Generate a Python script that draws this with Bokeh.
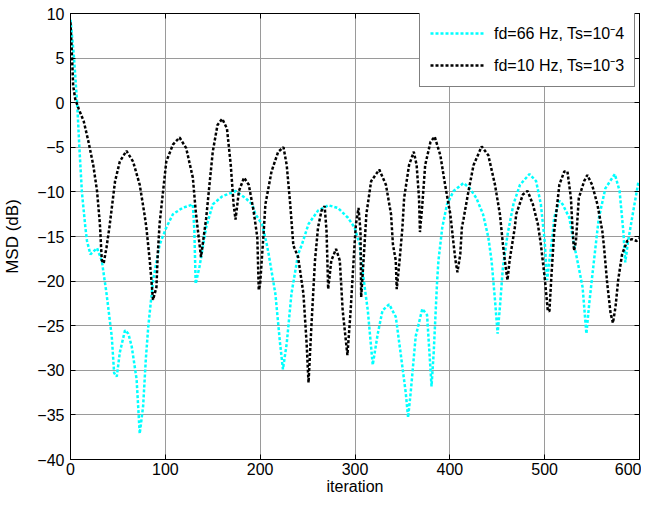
from bokeh.plotting import figure
from bokeh.models import Range1d, LinearAxis, FixedTicker, Legend, LegendItem
from bokeh.embed import file_html
from bokeh.resources import INLINE

# ---- data ----
x_ticks = [0, 100, 200, 300, 400, 500, 600]
y_ticks = [-40, -35, -30, -25, -20, -15, -10, -5, 0, 5, 10]
labels = ["fd=66 Hz, Ts=10\u207b4", "fd=10 Hz, Ts=10\u207b3"]

cyan_it = [0, 3.5, 7, 9.4, 12, 15.7, 17.4, 21, 28, 33, 38, 43.5, 46, 48.8, 52, 57.5, 61, 64.5,
           69.7, 73, 76.6, 79.4, 82, 87, 94, 101, 108, 118, 129, 130.6, 132, 136, 143, 150, 160,
           174, 184.6, 191.5, 195, 202, 207, 209, 216, 221, 224, 228, 233, 240, 244, 251, 261,
           272, 282, 292.6, 299.6, 305, 306.5, 313.5, 318.7, 324, 329, 336, 343, 348, 353.5, 356,
           358.7, 364, 371, 376, 380.7, 383, 386.6, 388, 392, 397, 404, 414.5, 421, 428, 435,
           440.6, 444, 447.6, 450.4, 452.8, 456, 461, 467, 474, 484, 491, 496, 500, 502.6, 505,
           508.5, 510, 515.5, 519, 526, 531, 536, 540, 544, 547, 552, 557, 564, 574, 579, 583,
           585, 588, 594, 599]
cyan_db = [9.3, 5.3, 0, -5.1, -10, -14, -15.5, -17, -16.3, -17.7, -21.4, -26.2, -30.3, -30.7,
           -28, -25.5, -25.9, -27.3, -31, -37.1, -34, -28.8, -25.1, -20, -15.9, -14, -12.5,
           -11.8, -11.4, -14.3, -20.3, -18.4, -14, -11.4, -10.5, -9.9, -10.7, -11.4, -12.5,
           -13.6, -15.9, -17, -21.4, -27, -29.9, -27, -21.4, -17, -15.9, -13.6, -12.1, -11.5,
           -11.8, -12.9, -14, -15.9, -17.7, -23.3, -29.4, -25.9, -23.3, -22.6, -24, -28, -32.5,
           -35.3, -32.5, -26.2, -23.1, -23.8, -31.8, -28, -20, -17.7, -14, -11.4, -9.9, -9,
           -9.6, -10.7, -12.5, -15.1, -17.7, -22.1, -25.9, -22.9, -18.4, -14.7, -11.4, -9.2,
           -8, -8.8, -11.4, -15.5, -19.9, -17.7, -14.7, -12.9, -11, -11.4, -12.9, -15.9,
           -18.5, -20.7, -25.9, -22.5, -17.7, -13, -9.6, -8, -9.9, -14.5, -17.9, -15.5,
           -11.8, -8.8]

black_it = [0, 1.7, 2.8, 5, 8.7, 14, 19, 24, 28, 31, 33, 35, 38, 41, 47, 52, 59, 66, 73, 78,
            80, 83.6, 87, 90.6, 92, 94, 101, 108, 115, 122, 129, 132, 134, 137.6, 139, 143, 150,
            155, 160, 165, 169, 172, 174, 177.6, 183, 188, 193, 197, 198.5, 200, 204, 205.5,
            212, 219, 224.6, 228, 231.7, 235, 240, 245.6, 249, 251, 254, 257.8, 261, 264.7, 268,
            270, 271.7, 275, 280, 284, 287, 292, 295.4, 299.5, 301, 303.7, 305.8, 306.5, 309,
            312, 317, 325.6, 332.6, 338, 340, 343, 344, 347, 350, 351.8, 357, 362, 365, 367.5,
            368.5, 371, 374, 379.6, 384, 390, 395, 400.5, 404, 406, 408, 411, 412.7, 414.5,
            419.7, 425, 433.6, 440.6, 447.6, 452.8, 456, 458, 460.8, 463, 468.5, 470, 477, 482,
            487.6, 492.8, 496, 500, 503.3, 505, 507, 510, 515.5, 520.7, 524, 527.7, 529.4, 531,
            533, 536, 541.6, 545, 550, 555.6, 560.8, 562.6, 566, 569.5, 572, 574.7, 577.5,
            581.6, 587, 592, 597, 600]
black_db = [9, 4.9, 1.9, 0.4, -0.7, -2.1, -4.4, -7, -9.9, -13.6, -17.7, -18, -16.2, -14, -8.8,
            -6.6, -5.4, -6.6, -9.2, -12.5, -14, -17.7, -22.1, -20.7, -17, -13.5, -6.6, -4.7,
            -3.9, -5.1, -8.4, -12.1, -14, -17.3, -16.2, -13, -5.5, -2.5, -1.8, -2.9, -7, -11.4,
            -13.1, -9.9, -8.4, -9.2, -12.1, -15.1, -21, -20.3, -14, -11.4, -7.7, -5.5, -5, -7,
            -11.4, -16, -17.3, -21.4, -27, -31.4, -25.1, -17.7, -14, -12.1, -11.6, -14.4, -20.9,
            -17.7, -16.4, -17.7, -23.3, -28.3, -23.3, -15.9, -13.6, -11.8, -14.4, -21.8, -17.7,
            -12.5, -8.8, -7.5, -9.2, -12.5, -15.9, -17.7, -20.9, -17.7, -14, -10.7, -7, -5.5,
            -7, -10.7, -14.5, -11.4, -7, -4.4, -3.8, -5.9, -9.2, -12.5, -15.9, -17.7, -19, -17,
            -14, -13, -9.9, -7, -4.9, -5.9, -9.2, -12.5, -15.9, -17.7, -19.9, -17.7, -14, -12.5,
            -10.3, -9.9, -11.4, -13.6, -15.9, -19.6, -23.3, -23.4, -19.6, -14.5, -9.2, -7.7,
            -7.7, -10.7, -14.2, -16.6, -15.5, -10.7, -8.8, -8.1, -9.2, -11.4, -14.4, -16.2,
            -20.3, -23.6, -24.7, -22.9, -19.9, -17, -15.5, -15.3, -15.5, -15.2]

FONT = "Liberation Sans"

p = figure(width=641, height=497, output_backend="svg", toolbar_location=None,
           x_range=Range1d(0, 600), y_range=Range1d(-40, 10),
           min_border_left=70, min_border_right=2, min_border_top=13, min_border_bottom=0)
p.background_fill_color = "white"
p.border_fill_color = "white"
p.outline_line_color = "black"
p.outline_line_width = 1

p.xaxis.ticker = FixedTicker(ticks=x_ticks)
p.yaxis.ticker = FixedTicker(ticks=y_ticks)
p.xaxis.axis_label = "iteration"
p.yaxis.axis_label = "MSD (dB)"
for ax in (p.xaxis, p.yaxis):
    ax.axis_line_color = "black"
    ax.major_tick_in = 5
    ax.major_tick_out = 0
    ax.minor_tick_in = 0
    ax.minor_tick_out = 0
    ax.major_tick_line_color = "black"
    ax.major_label_text_font = FONT
    ax.major_label_text_font_size = "16px"
    ax.major_label_text_color = "black"
    ax.axis_label_text_font = FONT
    ax.axis_label_text_font_size = "16px"
    ax.axis_label_text_font_style = "normal"
    ax.axis_label_text_color = "black"
p.xaxis.major_label_standoff = 3
p.xaxis.axis_label_standoff = 0
p.yaxis.major_label_standoff = 6
p.yaxis.axis_label_standoff = 12
p.yaxis.axis_label_text_font_size = "17px"

# box ticks on the top and right sides (no labels there)
for place, ticks in (("above", x_ticks), ("right", y_ticks)):
    ax = LinearAxis(ticker=FixedTicker(ticks=ticks), major_label_text_font_size="0px",
                    major_label_text_color=None, major_label_text_alpha=0,
                    major_label_standoff=0, major_tick_in=5, major_tick_out=0,
                    minor_tick_in=0, minor_tick_out=0, axis_line_color="black",
                    major_tick_line_color="black")
    p.add_layout(ax, place)

p.xgrid.ticker = FixedTicker(ticks=x_ticks)
p.ygrid.ticker = FixedTicker(ticks=y_ticks)
p.grid.grid_line_color = "#9a9a9a"
p.grid.grid_line_width = 1

r1 = p.line(cyan_it, cyan_db, line_color="#00FFFF", line_width=2.5, line_dash="3 2")
r2 = p.line(black_it, black_db, line_color="black", line_width=2.5, line_dash="3 2")

legend = Legend(items=[LegendItem(label=labels[0], renderers=[r1]),
                       LegendItem(label=labels[1], renderers=[r2])],
                location=(349, 372), margin=0, padding=10, spacing=10,
                glyph_width=55, glyph_height=18, label_standoff=9, label_height=18,
                label_text_font=FONT, label_text_font_size="16px",
                label_text_color="black",
                border_line_color="black", border_line_width=1,
                background_fill_color="white", background_fill_alpha=1)
p.add_layout(legend)

open("out.html", "w").write(file_html(p, INLINE))
